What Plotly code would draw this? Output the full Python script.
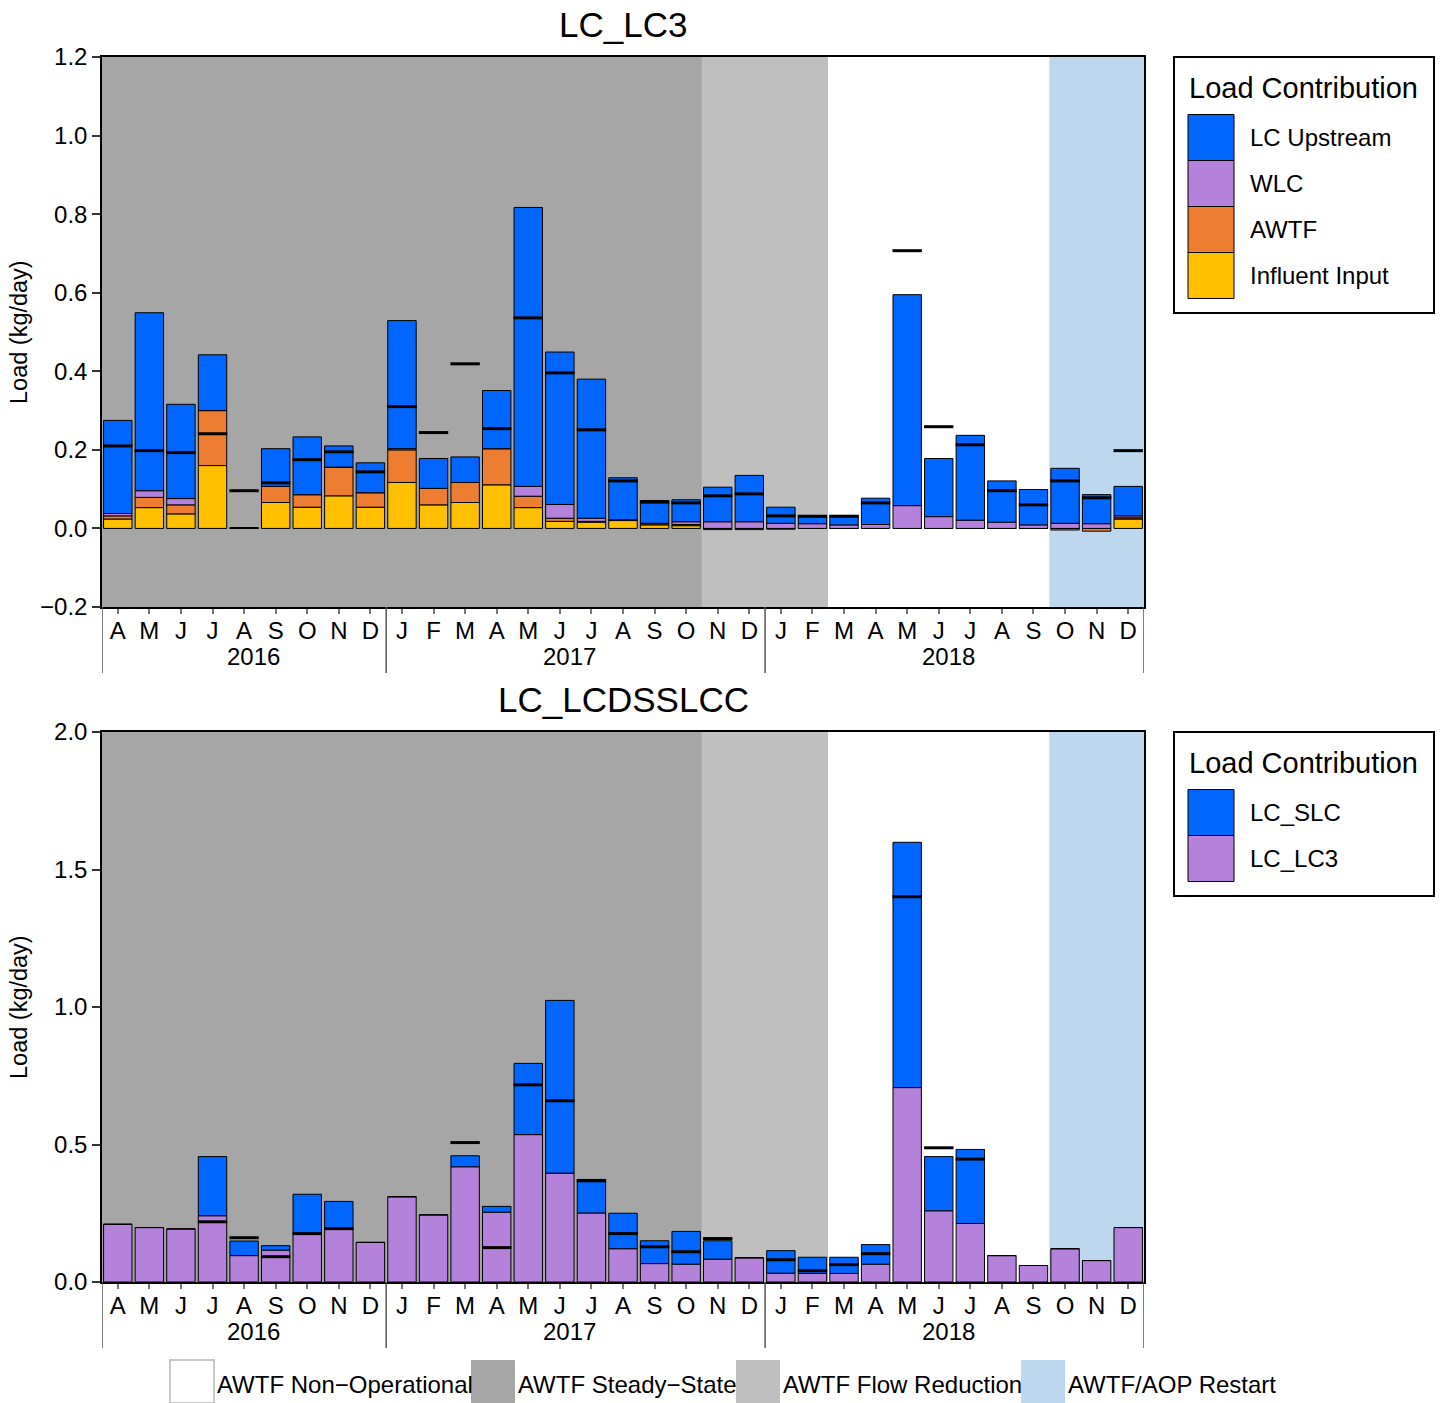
import plotly.graph_objects as go

W, H = 1440, 1403

# ---------------- data ----------------
months = ["A", "M", "J", "J", "A", "S", "O", "N", "D",
          "J", "F", "M", "A", "M", "J", "J", "A", "S", "O", "N", "D",
          "J", "F", "M", "A", "M", "J", "J", "A", "S", "O", "N", "D"]
years = ["2016", "2017", "2018"]
year_month_counts = [9, 12, 12]

# LC_LC3 load contributions (kg/day)
influent_input = [0.024, 0.053, 0.037, 0.160, 0.001, 0.066, 0.054, 0.083, 0.054,
                  0.117, 0.060, 0.066, 0.111, 0.053, 0.018, 0.016, 0.020, 0.009, 0.007, 0.0, 0.0,
                  0.0, 0.0, 0.0, 0.0, 0.0, 0.0, 0.0, 0.0, 0.0, 0.0, 0.0, 0.024]
awtf = [0.008, 0.026, 0.023, 0.140, 0.0, 0.041, 0.032, 0.073, 0.037,
        0.083, 0.042, 0.051, 0.092, 0.029, 0.008, 0.002, 0.001, 0.003, 0.003, -0.003, -0.003,
        -0.002, 0.0, 0.0, 0.0, 0.0, 0.0, 0.0, 0.0, 0.0, -0.004, -0.007, 0.003]
wlc = [0.006, 0.017, 0.016, 0.0, 0.0, 0.0, 0.0, 0.0, 0.0,
       0.003, 0.0, 0.0, 0.0, 0.025, 0.035, 0.008, 0.001, 0.001, 0.007, 0.017, 0.017,
       0.013, 0.012, 0.009, 0.010, 0.058, 0.030, 0.021, 0.016, 0.009, 0.013, 0.012, 0.005]
lc_upstream = [0.237, 0.453, 0.240, 0.142, 0.0, 0.096, 0.147, 0.054, 0.076,
               0.326, 0.076, 0.065, 0.148, 0.710, 0.388, 0.354, 0.107, 0.058, 0.056, 0.088, 0.118,
               0.041, 0.017, 0.024, 0.067, 0.537, 0.148, 0.216, 0.105, 0.090, 0.140, 0.074, 0.075]
# measured LC_LC3 load (black dashes, top) = LC_LC3 contribution (bottom)
lc3_measured = [0.210, 0.198, 0.193, 0.241, 0.096, 0.116, 0.175, 0.195, 0.144,
                0.310, 0.244, 0.419, 0.254, 0.536, 0.396, 0.251, 0.121, 0.067, 0.065, 0.083, 0.088,
                0.032, 0.031, 0.031, 0.065, 0.707, 0.259, 0.213, 0.096, 0.060, 0.121, 0.078, 0.198]

# LC_LCDSSLCC load contributions (kg/day)
lc_slc = [0, 0, 0, 0.215, 0.053, 0.016, 0.144, 0.098, 0,
          0, 0, 0.040, 0.021, 0.259, 0.628, 0.122, 0.129, 0.083, 0.119, 0.067, 0,
          0.082, 0.059, 0.059, 0.071, 0.892, 0.197, 0.269, 0, 0, 0, 0, 0]
lcdsslcc_measured = [None, None, None, 0.219, 0.161, 0.092, 0.176, 0.194, None,
                     None, None, 0.507, 0.125, 0.717, 0.659, 0.368, 0.176, 0.128, 0.110, 0.158, None,
                     0.081, 0.041, 0.063, 0.103, 1.401, 0.488, 0.447, None, None, None, None, None]

period_labels = ["AWTF Non\u2212Operational", "AWTF Steady\u2212State",
                 "AWTF Flow Reduction", "AWTF/AOP Restart"]
period_colors = ["#FFFFFF", "#A6A6A6", "#BFBFBF", "#BDD7EE"]
# (period index, first month index, month count)
period_spans = [(1, 0, 19), (2, 19, 4), (0, 23, 7), (3, 30, 3)]

top_ticks = [-0.2, 0.0, 0.2, 0.4, 0.6, 0.8, 1.0, 1.2]
bot_ticks = [0.0, 0.5, 1.0, 1.5, 2.0]

C_BLUE, C_PURPLE, C_ORANGE, C_YELLOW = "#0066FF", "#B482DA", "#ED7D31", "#FFC000"
FONT = "Liberation Sans, Arial, sans-serif"
FS = 24

# ---------------- helpers ----------------
def px(x):
    return x / W

def py(y):
    return 1 - y / H

x = list(range(len(months)))

fig = go.Figure()

def bar(vals, color, xa, ya, name):
    fig.add_trace(go.Bar(x=x, y=vals, name=name, width=0.9, xaxis=xa, yaxis=ya,
                         marker=dict(color=color, line=dict(color="black", width=1)),
                         showlegend=False))

bar(influent_input, C_YELLOW, "x", "y", "Influent Input")
bar(awtf, C_ORANGE, "x", "y", "AWTF")
bar(wlc, C_PURPLE, "x", "y", "WLC")
bar(lc_upstream, C_BLUE, "x", "y", "LC Upstream")
fig.add_trace(go.Scatter(x=x, y=lc3_measured, mode="markers", xaxis="x", yaxis="y",
                         marker=dict(symbol="line-ew", size=21, line=dict(color="black", width=3)),
                         showlegend=False))

bar(lc3_measured, C_PURPLE, "x2", "y2", "LC_LC3")
bar(lc_slc, C_BLUE, "x2", "y2", "LC_SLC")
fig.add_trace(go.Scatter(x=x, y=lcdsslcc_measured, mode="markers", xaxis="x2", yaxis="y2",
                         marker=dict(symbol="line-ew", size=21, line=dict(color="black", width=3)),
                         showlegend=False))

shapes = []
annotations = []

# period shading
for xr, yr in [("x", "y domain"), ("x2", "y2 domain")]:
    for pi, start, n in period_spans:
        shapes.append(dict(type="rect", xref=xr, yref=yr, x0=start - 0.5, x1=start + n - 0.5,
                           y0=0, y1=1, fillcolor=period_colors[pi], line=dict(width=0),
                           layer="below"))

# year row: separators and labels (labels sit slightly off the span centres, as in the source)
year_label_shift = [0.31, -0.18, -0.18]
for xr, axis_bottom in [("x", 607), ("x2", 1282)]:
    edge = -0.5
    bounds = [edge]
    for c in year_month_counts:
        edge += c
        bounds.append(edge)
    for b in bounds:
        shapes.append(dict(type="line", xref=xr, yref="paper", x0=b, x1=b,
                           y0=py(axis_bottom), y1=py(axis_bottom + 66),
                           line=dict(color="#555555", width=1.5)))
    for i, yl in enumerate(years):
        annotations.append(dict(text=yl, xref=xr, yref="paper",
                                x=(bounds[i] + bounds[i + 1]) / 2 + year_label_shift[i],
                                y=py(axis_bottom + 49), showarrow=False, xanchor="center",
                                yanchor="middle", font=dict(size=FS, family=FONT, color="black")))

# titles
annotations.append(dict(text="LC_LC3", xref="paper", yref="paper", x=px(623), y=py(24),
                        xanchor="center", yanchor="middle",
                        showarrow=False, font=dict(size=35, family=FONT, color="black")))
annotations.append(dict(text="LC_LCDSSLCC", xref="paper", yref="paper", x=px(623), y=py(699),
                        xanchor="center", yanchor="middle",
                        showarrow=False, font=dict(size=35, family=FONT, color="black")))
for yc in [332, 1007]:
    annotations.append(dict(text="Load (kg/day)", xref="paper", yref="paper", x=px(19), y=py(yc),
                            xanchor="center", yanchor="middle",
                            textangle=-90, showarrow=False,
                            font=dict(size=23.5, family=FONT, color="black")))

# legends (right)
def legend_box(top, bottom, items):
    shapes.append(dict(type="rect", xref="paper", yref="paper", x0=px(1174), x1=px(1434),
                       y0=py(bottom), y1=py(top), line=dict(color="black", width=2),
                       fillcolor="white"))
    annotations.append(dict(text="Load Contribution", xref="paper", yref="paper", x=px(1187),
                            y=py(top + 31), xanchor="left", yanchor="middle", showarrow=False,
                            font=dict(size=29, family=FONT, color="black")))
    y0 = top + 57.5
    for label, color in items:
        shapes.append(dict(type="rect", xref="paper", yref="paper", x0=px(1188), x1=px(1234),
                           y0=py(y0 + 46), y1=py(y0), fillcolor=color,
                           line=dict(color="black", width=1)))
        annotations.append(dict(text=label, xref="paper", yref="paper", x=px(1248), y=py(y0 + 23),
                                xanchor="left", yanchor="middle", showarrow=False,
                                font=dict(size=FS, family=FONT, color="black")))
        y0 += 46

legend_box(57, 313, [("LC Upstream", C_BLUE), ("WLC", C_PURPLE), ("AWTF", C_ORANGE),
                     ("Influent Input", C_YELLOW)])
legend_box(732, 896, [("LC_SLC", C_BLUE), ("LC_LC3", C_PURPLE)])

# period legend (bottom)
sw_x = [170, 471, 736, 1021]
for i, lab in enumerate(period_labels):
    shapes.append(dict(type="rect", xref="paper", yref="paper", x0=px(sw_x[i]), x1=px(sw_x[i] + 44),
                       y0=py(1403), y1=py(1360), fillcolor=period_colors[i],
                       line=dict(color="#C8C8C8" if i == 0 else period_colors[i], width=2 if i == 0 else 0)))
    annotations.append(dict(text=lab, xref="paper", yref="paper", x=px(sw_x[i] + 45), y=py(1384),
                            xanchor="left", yanchor="middle", showarrow=False,
                            font=dict(size=FS, family=FONT, color="black")))

xaxis_common = dict(range=[-0.5, len(months) - 0.5], tickmode="array", tickvals=x, ticktext=months,
                    ticks="outside", ticklen=5, tickcolor="#777777", tickwidth=1.5,
                    ticklabelstandoff=-4,
                    showline=True, linecolor="black", linewidth=1.5, mirror=True,
                    showgrid=False, zeroline=False, automargin=False,
                    tickfont=dict(size=FS, family=FONT, color="black"), fixedrange=True)

def ytick_text(v, dec):
    s = f"{abs(v):.{dec}f}"
    return ("\u2212" + s) if v < 0 else s

yaxis_common = dict(ticks="outside", ticklen=8, tickcolor="#333333", tickwidth=1.5,
                    showline=True, linecolor="black", linewidth=1.5, mirror=True,
                    showgrid=False, zeroline=False, tickmode="array", automargin=False,
                    tickfont=dict(size=FS, family=FONT, color="black"), fixedrange=True)

fig.update_layout(
    width=W, height=H,
    margin=dict(l=0, r=0, t=0, b=0, pad=0, autoexpand=False),
    paper_bgcolor="white", plot_bgcolor="white",
    barmode="relative", bargap=0.1,
    font=dict(family=FONT, color="black"),
    xaxis=dict(domain=[px(102), px(1144)], anchor="y", **xaxis_common),
    yaxis=dict(domain=[py(607), py(57)], anchor="x", range=[-0.2, 1.2],
               tickvals=top_ticks, ticktext=[ytick_text(v, 1) for v in top_ticks], **yaxis_common),
    xaxis2=dict(domain=[px(102), px(1144)], anchor="y2", **xaxis_common),
    yaxis2=dict(domain=[py(1282), py(732)], anchor="x2", range=[0, 2.0],
                tickvals=bot_ticks, ticktext=[ytick_text(v, 1) for v in bot_ticks], **yaxis_common),
    shapes=shapes, annotations=annotations,
)

fig.write_html("out.html", config={"displayModeBar": False})
